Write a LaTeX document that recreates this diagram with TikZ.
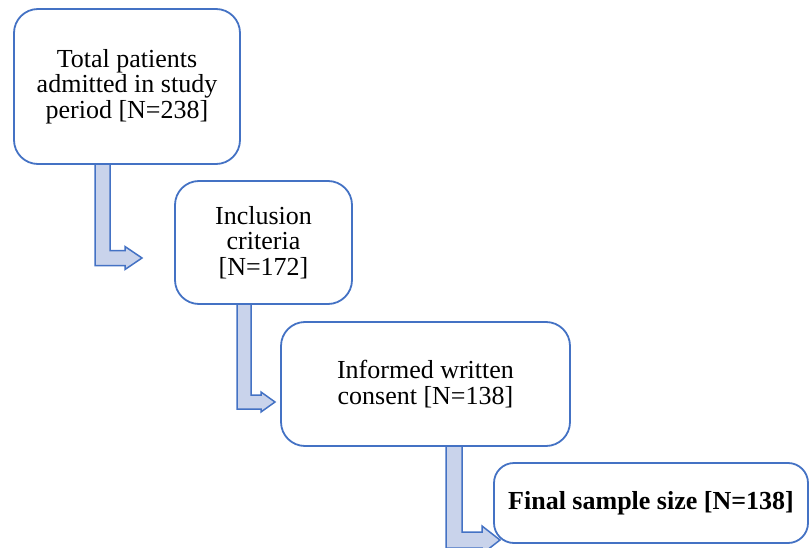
\documentclass[tikz,border=0pt]{standalone}
\usepackage{fontspec}
\setmainfont{Liberation Serif}
\usetikzlibrary{calc}
\definecolor{boxblue}{HTML}{4472C4}
\definecolor{arrfill}{HTML}{C9D3EB}
\tikzset{
  flowbox/.style={draw=boxblue, line width=1.8pt, fill=white, rounded corners=24pt,
    align=center, inner sep=0pt, font=\fontsize{26}{25.5}\selectfont},
  blockarrow/.style={draw=boxblue, line width=1.5pt, fill=arrfill, line join=miter}
}
% #1 shaft left x, #2 top y, #3 tip x, #4 tip y, #5 shaft width, #6 head half width, #7 head length
\newcommand{\bentarrow}[7]{%
  \path[blockarrow] (#1,#2) -- ({#1+#5},#2) -- ({#1+#5},{#4-#5/2}) -- ({#3-#7},{#4-#5/2})
   -- ({#3-#7},{#4-#6}) -- (#3,#4) -- ({#3-#7},{#4+#6}) -- ({#3-#7},{#4+#5/2})
   -- (#1,{#4+#5/2}) -- cycle;}
\begin{document}
\begin{tikzpicture}[x=1pt,y=-1pt]
\useasboundingbox (0,0) rectangle (811,548);
\clip (0,0) rectangle (811,548);
% arrows behind boxes
\bentarrow{95}{150}{142}{258}{15}{11.5}{17}
\bentarrow{237}{290}{275}{402}{14}{10}{14}
\bentarrow{446}{430}{500}{540}{16}{14}{18}
\node[flowbox, minimum width=226pt, minimum height=155pt] (b1) at (127,86.5)
  {Total patients\\admitted in study\\period [N=238]};
\node[flowbox, minimum width=177pt, minimum height=123pt] (b2) at (263.5,242.5)
  {Inclusion\\criteria\\[0pt][N=172]};
\node[flowbox, minimum width=289pt, minimum height=124pt] (b3) at (425.5,384)
  {Informed written\\consent [N=138]};
\node[flowbox, rounded corners=20pt, minimum width=314pt, minimum height=80pt] (b4) at (651,503)
  {\bfseries Final sample size [N=138]};
\end{tikzpicture}
\end{document}
